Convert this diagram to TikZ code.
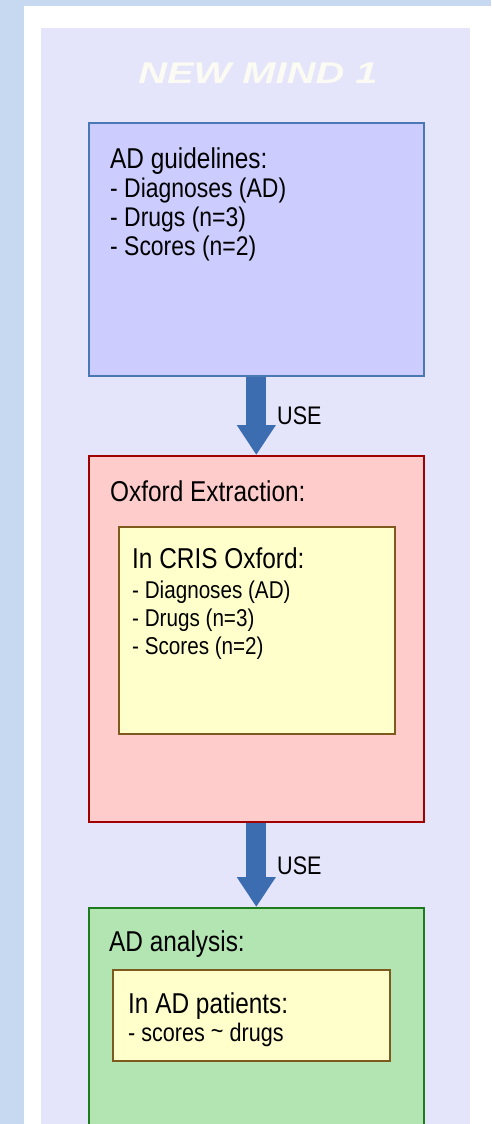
\documentclass[tikz,border=0pt]{standalone}
\usepackage{fontspec}
\setmainfont[FakeStretch=0.85]{Liberation Sans}
\newfontfamily\titlefont{Liberation Sans}
\usetikzlibrary{arrows.meta}
\definecolor{outerbg}{HTML}{C6D9F1}
\definecolor{lavender}{HTML}{E4E4FB}
\definecolor{titlecol}{HTML}{FBFBF3}
\definecolor{bluefill}{HTML}{CCCCFF}
\definecolor{blueborder}{HTML}{4A78B5}
\definecolor{redfill}{HTML}{FFCCCC}
\definecolor{redborder}{HTML}{A00000}
\definecolor{yellowfill}{HTML}{FFFFCC}
\definecolor{brownborder}{HTML}{7F5A1E}
\definecolor{greenfill}{HTML}{B3E5B3}
\definecolor{greenborder}{HTML}{1E7A1E}
\definecolor{arrowblue}{HTML}{3C6DB0}
\begin{document}
\begin{tikzpicture}[x=1pt,y=-1pt,
  panel/.style={draw, line width=1.6pt, anchor=north west, inner sep=0pt},
  innerbox/.style={panel, draw=brownborder, fill=yellowfill, line width=1.8pt},
  txt/.style={anchor=base west, inner sep=0pt, text=black},
  hdr/.style={txt, font=\fontsize{28.7}{32}\selectfont},
  item/.style={txt, font=\fontsize{27}{31}\selectfont},
  crisitem/.style={txt, font=\fontsize{24.3}{28}\selectfont},
  patitem/.style={txt, font=\fontsize{25.4}{29}\selectfont},
  usearrow/.style={draw=arrowblue, line width=20pt, -{Triangle[width=37pt,length=30pt]}},
  uselabel/.style={txt, font=\fontsize{25.4}{29}\selectfont}]
\useasboundingbox (0,0) rectangle (491,1124);
\clip (0,0) rectangle (491,1124);
% backgrounds
\fill[outerbg] (0,0) rectangle (491,1124);
\fill[white] (24,6) rectangle (491,1124);
\fill[lavender] (41,28) rectangle (470,1124);
% title
\node[inner sep=0pt, anchor=base, text=titlecol, font=\titlefont\fontsize{30}{34}\selectfont\bfseries\itshape] (title) at (258,84) {\scalebox{1.33}[1]{NEW MIND 1}};
% box 1
\node[panel, draw=blueborder, fill=bluefill, minimum width=335pt, minimum height=253pt] (guide) at (88,122) {};
\node[hdr] (g0) at (110,168) {AD guidelines:};
\node[item] (g1) at (110,197) {- Diagnoses (AD)};
\node[item] (g2) at (110,226) {- Drugs (n=3)};
\node[item] (g3) at (110,255) {- Scores (n=2)};
% box 2
\node[panel, draw=redborder, fill=redfill, minimum width=335pt, minimum height=366pt] (oxford) at (88,455) {};
\node[hdr] (o0) at (110,501) {Oxford Extraction:};
\node[innerbox, minimum width=276pt, minimum height=207pt] (cris) at (118,526) {};
\node[hdr] (c0) at (132,568) {In CRIS Oxford:};
\node[crisitem] (c1) at (132,598) {- Diagnoses (AD)};
\node[crisitem] (c2) at (132,626) {- Drugs (n=3)};
\node[crisitem] (c3) at (132,654) {- Scores (n=2)};
% box 3
\node[panel, draw=greenborder, fill=greenfill, minimum width=335pt, minimum height=250pt] (analysis) at (88,907) {};
\node[hdr] (a0) at (109,951) {AD analysis:};
\node[innerbox, minimum width=277pt, minimum height=91pt] (pat) at (112,969) {};
\node[hdr] (p0) at (128,1013) {In AD patients:};
\node[patitem] (p1) at (128,1041) {- scores {\raisebox{0.1ex}{\char"7E}} drugs};
% arrows
\draw[usearrow] (guide.south) -- (oxford.north);
\node[uselabel] (use1) at (277,424) {USE};
\draw[usearrow] (oxford.south) -- (analysis.north);
\node[uselabel] (use2) at (277,874) {USE};
\end{tikzpicture}
\end{document}
